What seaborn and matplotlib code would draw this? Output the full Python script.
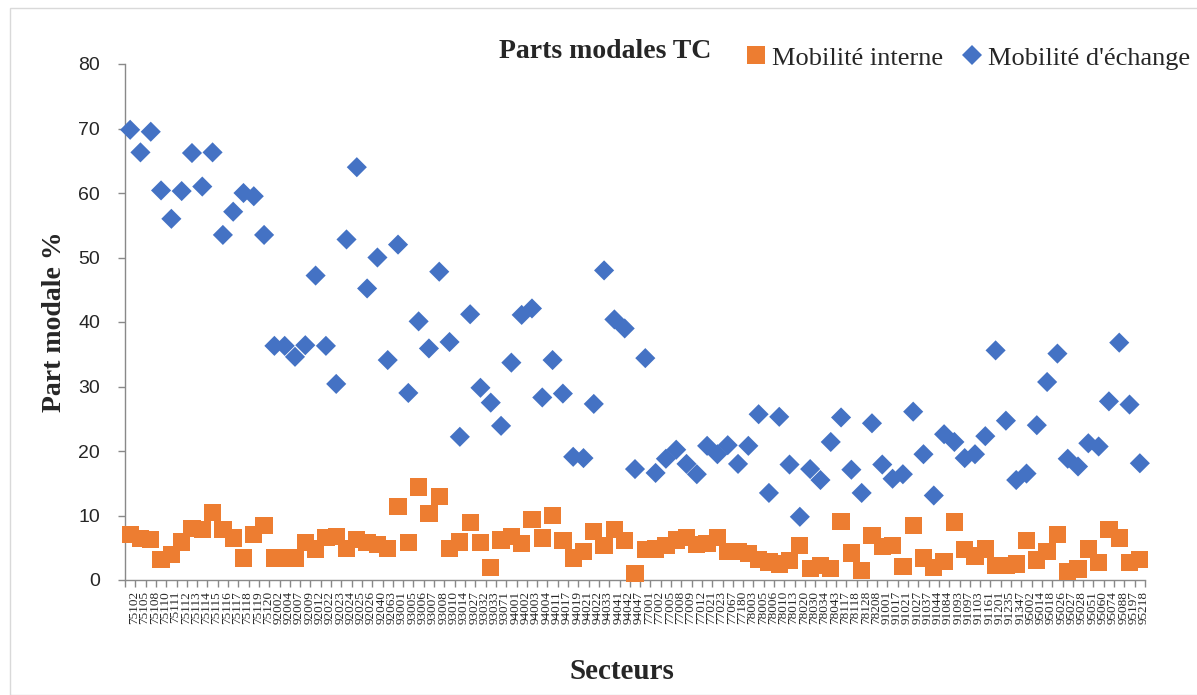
import matplotlib
matplotlib.use("Agg")
import matplotlib.pyplot as plt
from matplotlib.lines import Line2D
from matplotlib.patches import Rectangle
from matplotlib.transforms import ScaledTranslation
import pandas as pd
import seaborn as sns

# Sector codes (x axis categories)
secteurs = [
    "75102", "75105", "75108", "75110", "75111", "75112", "75113", "75114",
    "75115", "75116", "75117", "75118", "75119", "75120",
    "92002", "92004", "92007", "92009", "92012", "92022", "92023", "92024",
    "92025", "92026", "92040", "92063",
    "93001", "93005", "93006", "93007", "93008", "93010", "93014", "93027",
    "93032", "93033", "93071",
    "94001", "94002", "94003", "94004", "94011", "94017", "94019", "94021",
    "94022", "94033", "94041", "94042", "94047",
    "77001", "77002", "77005", "77008", "77009", "77012", "77021", "77023",
    "77067", "77180",
    "78003", "78005", "78006", "78010", "78013", "78020", "78030", "78034",
    "78043", "78117", "78118", "78128", "78208",
    "91001", "91017", "91021", "91027", "91037", "91044", "91084", "91093",
    "91097", "91103", "91161", "91201", "91235", "91347",
    "95002", "95014", "95018", "95026", "95027", "95028", "95051", "95060",
    "95074", "95088", "95197", "95218",
]

# Modal share of public transport for trips inside the sector (%)
mobilite_interne = [
    7.1, 6.4, 6.3, 3.2, 4.0, 5.9, 8.0, 7.8, 10.5, 7.8, 6.5, 3.4, 7.1, 8.5,
    3.4, 3.4, 3.4, 5.8, 4.8, 6.6, 6.7, 4.9, 6.3, 5.8, 5.5, 4.9, 11.4, 5.8,
    14.4, 10.3, 13.0, 4.9, 5.9, 8.9, 5.8, 1.9, 6.2, 6.7, 5.7, 9.4, 6.5, 10.0,
    6.1, 3.4, 4.4, 7.5, 5.3, 7.8, 6.1, 1.0, 4.7, 4.8, 5.4, 6.2, 6.6, 5.5,
    5.7, 6.6, 4.4, 4.4, 4.1, 3.2, 2.8, 2.5, 3.0, 5.4, 1.8, 2.2, 1.8, 9.1,
    4.2, 1.5, 6.9, 5.2, 5.4, 2.1, 8.5, 3.4, 1.9, 2.9, 9.0, 4.7, 3.7, 4.8,
    2.2, 2.2, 2.5, 6.1, 3.1, 4.4, 7.1, 1.3, 1.7, 4.8, 2.7, 7.8, 6.5, 2.7,
    3.2,
]

# Modal share of public transport for exchange trips (%)
mobilite_echange = [
    69.8, 66.3, 69.5, 60.4, 56.0, 60.3, 66.2, 61.0, 66.3, 53.5, 57.1, 60.0,
    59.5, 53.5, 36.3, 36.3, 34.6, 36.4, 47.2, 36.3, 30.4, 52.8, 64.0, 45.2,
    50.0, 34.1, 52.0, 29.0, 40.1, 35.9, 47.8, 36.9, 22.2, 41.2, 29.8, 27.5,
    23.9, 33.7, 41.1, 42.1, 28.3, 34.1, 28.9, 19.1, 18.9, 27.3, 48.0, 40.4,
    39.0, 17.2, 34.4, 16.6, 18.8, 20.2, 18.0, 16.4, 20.8, 19.5, 20.9, 18.0,
    20.8, 25.7, 13.5, 25.3, 17.9, 9.8, 17.2, 15.5, 21.4, 25.2, 17.1, 13.5,
    24.3, 17.9, 15.7, 16.4, 26.1, 19.5, 13.1, 22.6, 21.4, 18.9, 19.5, 22.3,
    35.6, 24.7, 15.5, 16.5, 24.0, 30.7, 35.1, 18.8, 17.6, 21.2, 20.7, 27.7,
    36.8, 27.2, 18.1,
]

label_interne = "Mobilité interne"
label_echange = "Mobilité d'échange"
orange = "#ED7D31"
blue = "#4472C4"
axis_grey = "#898989"
serif = "Liberation Serif"

df = pd.DataFrame({
    "Secteur": secteurs,
    label_interne: mobilite_interne,
    label_echange: mobilite_echange,
})

sns.set_theme(style="white")
plt.rcParams["font.family"] = ["Liberation Sans", "DejaVu Sans"]

fig = plt.figure(figsize=(11.97, 6.95), dpi=100)
ax = fig.add_axes([125 / 1197, 1 - 580 / 695, 1020 / 1197, 516 / 695])

sns.scatterplot(data=df, x="Secteur", y=label_interne, ax=ax, marker="s",
                s=155, color=orange, edgecolor="none", linewidth=0,
                zorder=3, clip_on=False)
sns.scatterplot(data=df, x="Secteur", y=label_echange, ax=ax, marker="D",
                s=105, color=blue, edgecolor="none", linewidth=0,
                zorder=4, clip_on=False)

n = len(secteurs)
ax.set_xlim(-0.5, n - 0.5)
ax.set_ylim(0, 80)
ax.set_yticks(range(0, 81, 10))
ax.set_xticks(range(n))
ax.set_xticklabels(secteurs, rotation=90, family=serif, fontsize=9.5)
ax.set_xticks([i - 0.5 for i in range(n + 1)], minor=True)
ax.tick_params(axis="x", which="major", length=0, pad=8)
ax.tick_params(axis="x", which="minor", length=5, width=1, color=axis_grey,
               direction="out", bottom=True)
ax.tick_params(axis="y", which="major", length=5, width=1, color=axis_grey,
               direction="out", left=True, labelsize=14, pad=13)

# rotated category labels sit slightly to the right of their tick
shift = ScaledTranslation(4 / 100, 0, fig.dpi_scale_trans)
for lbl in ax.get_xticklabels():
    lbl.set_transform(lbl.get_transform() + shift)

for side in ("top", "right"):
    ax.spines[side].set_visible(False)
for side in ("left", "bottom"):
    ax.spines[side].set_color(axis_grey)
    ax.spines[side].set_linewidth(1)

ax.set_xlabel("Secteurs", family=serif, fontweight="bold", fontsize=21)
ax.xaxis.set_label_coords(0.487, -0.152)
ax.set_ylabel("Part modale %", family=serif, fontweight="bold", fontsize=20,
              labelpad=8)

fig.text(605 / 1197, 1 - 51 / 695, "Parts modales TC", family=serif,
         fontweight="bold", fontsize=20, ha="center", va="center")

handles = [
    Line2D([], [], linestyle="none", marker="s", markersize=12.5,
           color=orange, markeredgewidth=0),
    Line2D([], [], linestyle="none", marker="D", markersize=10,
           color=blue, markeredgewidth=0),
]
fig.legend(handles, [label_interne, label_echange], ncol=2,
           loc="center left", bbox_to_anchor=(748 / 1197, 1 - 58 / 695),
           frameon=False, prop={"family": serif, "size": 19},
           handlelength=0.6, handletextpad=0.3, columnspacing=0.8,
           borderaxespad=0, borderpad=0)

# Chart area border
fig.patches.append(Rectangle((10 / 1197, 0), 1.2, 1 - 8 / 695,
                             transform=fig.transFigure, fill=False,
                             edgecolor="#D9D9D9", linewidth=1))

fig.savefig("out.png", dpi=100)
